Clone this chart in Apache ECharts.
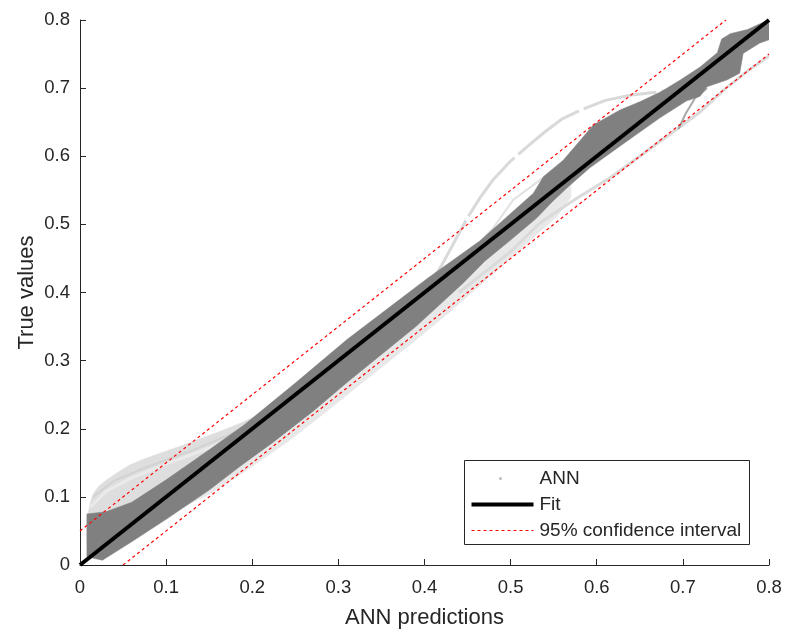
<!DOCTYPE html>
<html>
<head>
<meta charset="utf-8">
<script src="https://cdn.jsdelivr.net/npm/echarts@6/dist/echarts.min.js"></script>
<style>
  html, body { margin: 0; padding: 0; background: #fff; }
  #chart { width: 787px; height: 633px; }
</style>
</head>
<body>
<div id="chart"></div>
<script>
// Regression of true values against ANN predictions
const axisMin = 0;
const axisMax = 0.8;
const tickStep = 0.1;

// Fitted line and 95% confidence bounds
const fitLine = [[0, 0], [0.8, 0.8]];
const ciUpper = [[0, 0.05], [0.75, 0.8]];
const ciLower = [[0.05, 0], [0.8, 0.75]];

// Dense core of the ANN cloud: upper and lower envelopes
const coreUpper = [
  [0.008, 0.012], [0.008, 0.075], [0.03, 0.078], [0.06, 0.092], [0.10, 0.125],
  [0.15, 0.169], [0.19, 0.205], [0.25, 0.267], [0.31, 0.331], [0.36, 0.379],
  [0.4025, 0.42], [0.4645, 0.476], [0.50, 0.516], [0.5264, 0.5456], [0.538, 0.570],
  [0.561, 0.594], [0.58, 0.622], [0.596, 0.646], [0.627, 0.668], [0.650, 0.680],
  [0.675, 0.695], [0.697, 0.712], [0.720, 0.731], [0.740, 0.752], [0.745, 0.772],
  [0.755, 0.780], [0.775, 0.786], [0.792, 0.796], [0.80, 0.80]
];
const coreLower = [
  [0.008, 0.012], [0.026, 0.007], [0.06, 0.034], [0.10, 0.067], [0.15, 0.110],
  [0.186, 0.145], [0.224, 0.180], [0.27, 0.225], [0.31, 0.268], [0.35, 0.309],
  [0.39, 0.350], [0.445, 0.414], [0.47, 0.446], [0.50, 0.477], [0.53, 0.509],
  [0.549, 0.534], [0.565, 0.553], [0.592, 0.583], [0.635, 0.622], [0.673, 0.656],
  [0.704, 0.681], [0.720, 0.688], [0.728, 0.702], [0.751, 0.712], [0.766, 0.722],
  [0.770, 0.751], [0.789, 0.766], [0.80, 0.771]
];

// Sparse spread above the core at low values
const spreadLowUpper = [
  [0.008, 0.03], [0.008, 0.066], [0.012, 0.092], [0.0155, 0.105], [0.022, 0.116],
  [0.031, 0.125], [0.045, 0.137], [0.058, 0.147], [0.075, 0.156], [0.097, 0.166],
  [0.12, 0.176], [0.136, 0.184], [0.16, 0.195], [0.186, 0.208], [0.21, 0.222],
  [0.23, 0.235], [0.25, 0.248], [0.27, 0.265], [0.29, 0.285]
];
const spreadLowInner = [
  [0.008, 0.03], [0.05, 0.05], [0.10, 0.10], [0.20, 0.20], [0.29, 0.285]
];
// Denser streaks inside that spread
const streakLowA = [[0.012, 0.085], [0.03, 0.108], [0.06, 0.128], [0.10, 0.148], [0.15, 0.172], [0.20, 0.198]];
const streakLowB = [[0.015, 0.1], [0.04, 0.124], [0.08, 0.145], [0.13, 0.168], [0.19, 0.2], [0.24, 0.24]];

// Sparse spread below the core at mid values
const spreadMidLower = [
  [0.10, 0.067], [0.12, 0.085], [0.15, 0.104], [0.19, 0.136], [0.24, 0.18],
  [0.28, 0.219], [0.33, 0.27], [0.38, 0.32], [0.43, 0.372], [0.48, 0.428],
  [0.52, 0.473], [0.555, 0.513], [0.57, 0.54]
];
const spreadMidInner = [[0.10, 0.09], [0.30, 0.29], [0.57, 0.56]];

// Individual outlying traces
const traceHigh = [
  [0.405, 0.41], [0.42, 0.44], [0.435, 0.475], [0.45, 0.51], [0.465, 0.54],
  [0.48, 0.566], [0.50, 0.593], [0.52, 0.615], [0.54, 0.636], [0.56, 0.655],
  [0.58, 0.667], [0.61, 0.682], [0.64, 0.69], [0.67, 0.694], [0.70, 0.70]
];
const traceUpperNear = [
  [0.465, 0.475], [0.48, 0.495], [0.503, 0.536], [0.534, 0.565], [0.56, 0.59]
];
const traceLow = [
  [0.44, 0.40], [0.47, 0.43], [0.50, 0.46], [0.534, 0.502], [0.575, 0.537],
  [0.615, 0.568], [0.65, 0.60], [0.69, 0.637], [0.72, 0.665], [0.75, 0.70],
  [0.775, 0.725], [0.80, 0.747]
];
const traceHook = [[0.695, 0.64], [0.703, 0.662], [0.714, 0.685], [0.728, 0.70]];

const legendLabels = ['ANN', 'Fit', '95% confidence interval'];

const textColor = '#262626';
const fontFamily = '"Liberation Sans", Arial, Helvetica, sans-serif';

// Shapes of the ANN cloud, drawn in order (light first, dense core on top)
const cloudShapes = [
  { kind: 'area', pts: spreadLowUpper.concat(spreadLowInner.slice().reverse()), color: '#dedede' },
  { kind: 'trace', pts: streakLowA, color: '#eaeaea', width: 3 },
  { kind: 'trace', pts: streakLowB, color: '#d2d2d2', width: 2 },
  { kind: 'area', pts: spreadMidLower.concat(spreadMidInner.slice().reverse()), color: '#e8e8e8' },
  { kind: 'trace', pts: traceHigh, color: '#d9d9d9', width: 3, dash: [75, 5] },
  { kind: 'trace', pts: traceUpperNear, color: '#e2e2e2', width: 2 },
  { kind: 'trace', pts: traceLow, color: '#dadada', width: 3 },
  { kind: 'trace', pts: traceHook, color: '#a8a8a8', width: 2 },
  { kind: 'area', pts: coreUpper.concat(coreLower.slice().reverse()), color: '#808080' }
];

const chart = echarts.init(document.getElementById('chart'), null, { renderer: 'canvas' });

const axisCommon = {
  type: 'value',
  min: axisMin,
  max: axisMax,
  interval: tickStep,
  splitLine: { show: false },
  axisLine: { show: true, lineStyle: { color: textColor, width: 1 } },
  axisTick: { show: true, inside: true, length: 6, lineStyle: { color: textColor, width: 1 } },
  nameLocation: 'middle',
  nameMoveOverlap: false,
  nameTextStyle: { color: textColor, fontSize: 22, fontFamily: fontFamily }
};

const option = {
  backgroundColor: '#ffffff',
  animation: false,
  grid: { left: 80, right: 18, top: 20, bottom: 68, outerBoundsMode: 'none', containLabel: false },
  xAxis: Object.assign({}, axisCommon, {
    name: 'ANN predictions',
    nameGap: 42,
    axisLabel: { color: textColor, fontSize: 18.5, fontFamily: fontFamily, margin: 13 }
  }),
  yAxis: Object.assign({}, axisCommon, {
    name: 'True values',
    nameGap: 42,
    axisLabel: { color: textColor, fontSize: 18.5, fontFamily: fontFamily, margin: 10 }
  }),
  series: [
    {
      name: legendLabels[0],
      type: 'custom',
      silent: true,
      clip: true,
      data: cloudShapes.map(s => s.pts[0]),
      renderItem: function (params, api) {
        const s = cloudShapes[params.dataIndex];
        const points = s.pts.map(p => api.coord(p));
        if (s.kind === 'area') {
          return { type: 'polygon', shape: { points: points }, style: { fill: s.color, stroke: s.color, lineWidth: 0.5 } };
        }
        return {
          type: 'polyline',
          shape: { points: points },
          style: { stroke: s.color, lineWidth: s.width, fill: null, lineCap: 'butt', lineJoin: 'round', lineDash: s.dash || null }
        };
      }
    },
    {
      name: legendLabels[1],
      type: 'line',
      data: fitLine,
      symbol: 'none',
      silent: true,
      z: 5,
      lineStyle: { color: '#000000', width: 4 }
    },
    {
      name: legendLabels[2],
      type: 'line',
      data: ciUpper,
      symbol: 'none',
      silent: true,
      z: 4,
      lineStyle: { color: '#ff0000', width: 1.2, type: [3, 3] }
    },
    {
      name: legendLabels[2] + ' ',
      type: 'line',
      data: ciLower,
      symbol: 'none',
      silent: true,
      z: 4,
      lineStyle: { color: '#ff0000', width: 1.2, type: [3, 3] }
    }
  ],
  graphic: [
    {
      type: 'group',
      left: 464,
      top: 460,
      z: 100,
      children: [
        { type: 'rect', shape: { x: 0, y: 0, width: 285, height: 84 }, style: { fill: '#ffffff', stroke: textColor, lineWidth: 1 } },
        { type: 'circle', shape: { cx: 36, cy: 18, r: 1.5 }, style: { fill: '#bdbdbd' } },
        { type: 'line', shape: { x1: 7, y1: 44, x2: 69, y2: 44 }, style: { stroke: '#000000', lineWidth: 4 } },
        { type: 'line', shape: { x1: 7, y1: 70, x2: 69, y2: 70 }, style: { stroke: '#ff0000', lineWidth: 1, lineDash: [3, 3] } },
        { type: 'text', x: 75, y: 18, style: { text: legendLabels[0], fill: textColor, fontSize: 19, fontFamily: fontFamily, verticalAlign: 'middle' } },
        { type: 'text', x: 75, y: 44, style: { text: legendLabels[1], fill: textColor, fontSize: 19, fontFamily: fontFamily, verticalAlign: 'middle' } },
        { type: 'text', x: 75, y: 70, style: { text: legendLabels[2], fill: textColor, fontSize: 19, fontFamily: fontFamily, verticalAlign: 'middle' } }
      ]
    }
  ]
};

chart.setOption(option);
</script>
</body>
</html>
